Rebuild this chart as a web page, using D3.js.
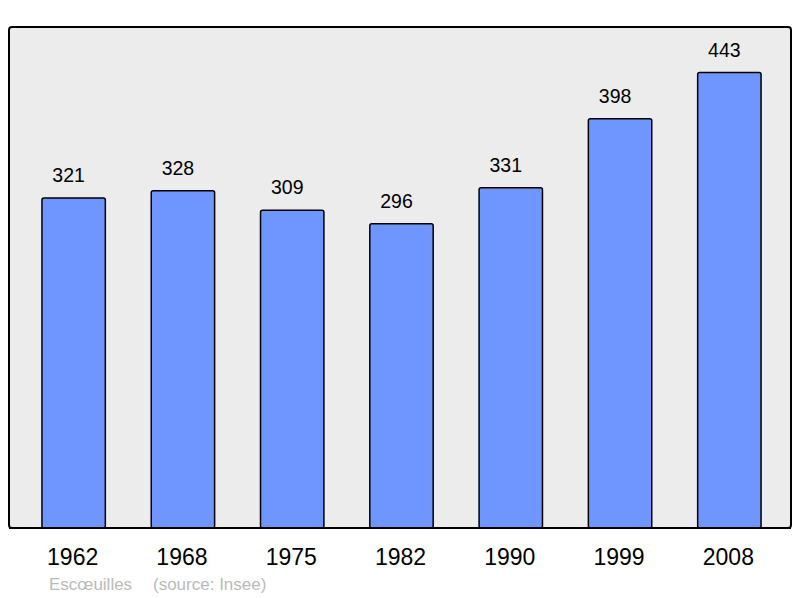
<!DOCTYPE html>
<html>
<head>
<meta charset="utf-8">
<script src="https://cdn.jsdelivr.net/npm/d3@7.8.5/dist/d3.min.js"></script>
<style>
  body { margin: 0; background: #fff; }
  text { font-family: "Liberation Sans", Arial, sans-serif; }
</style>
</head>
<body>
<div id="chart"></div>
<script>
const years = ['1962', '1968', '1975', '1982', '1990', '1999', '2008'];
const population = [321, 328, 309, 296, 331, 398, 443];
const place = 'Escœuilles';
const source = '(source: Insee)';

const width = 800, height = 598;
const box = { left: 9, top: 27, right: 791, bottom: 528 };

const svg = d3.select('#chart').append('svg')
  .attr('width', width)
  .attr('height', height);

svg.append('rect')
  .attr('x', box.left)
  .attr('y', box.top)
  .attr('width', box.right - box.left)
  .attr('height', box.bottom - box.top)
  .attr('rx', 3)
  .attr('fill', '#ececec')
  .attr('stroke', '#000')
  .attr('stroke-width', 2);

const x = d3.scaleBand()
  .domain(years)
  .range([19, 784])
  .paddingInner(0.42)
  .paddingOuter(0.21);

const y = d3.scaleLinear()
  .domain([0, 443 * 1.1])
  .range([box.bottom, box.top]);

const bars = svg.append('g').selectAll('g')
  .data(years.map((yr, i) => ({ year: yr, value: population[i] })))
  .join('g');

bars.append('rect')
  .attr('x', d => x(d.year))
  .attr('y', d => y(d.value))
  .attr('width', x.bandwidth())
  .attr('height', d => box.bottom - y(d.value))
  .attr('rx', 2)
  .attr('fill', '#6f96ff')
  .attr('stroke', '#000')
  .attr('stroke-width', 1.5);

bars.append('text')
  .attr('x', d => x(d.year) + x.bandwidth() / 2 - 5)
  .attr('y', d => y(d.value) - 16)
  .attr('text-anchor', 'middle')
  .attr('font-size', 19.5)
  .attr('fill', '#000')
  .text(d => d.value);

// redraw bottom edge of the frame over the bars
svg.append('line')
  .attr('x1', box.left)
  .attr('x2', box.right)
  .attr('y1', box.bottom)
  .attr('y2', box.bottom)
  .attr('stroke', '#000')
  .attr('stroke-width', 2);

const axis = d3.axisBottom(x).tickSize(0).tickPadding(0);
const axisG = svg.append('g')
  .attr('transform', `translate(-1, ${box.bottom})`)
  .call(axis);
axisG.select('.domain').remove();
axisG.selectAll('text')
  .attr('y', 37)
  .attr('dy', 0)
  .attr('font-size', 23)
  .attr('font-family', '"Liberation Sans", Arial, sans-serif')
  .attr('fill', '#000');

svg.append('text')
  .attr('x', 49)
  .attr('y', 590)
  .attr('font-size', 17)
  .attr('fill', '#bbbbbb')
  .text(place);

svg.append('text')
  .attr('x', 153)
  .attr('y', 590)
  .attr('font-size', 17)
  .attr('fill', '#bbbbbb')
  .text(source);
</script>
</body>
</html>
